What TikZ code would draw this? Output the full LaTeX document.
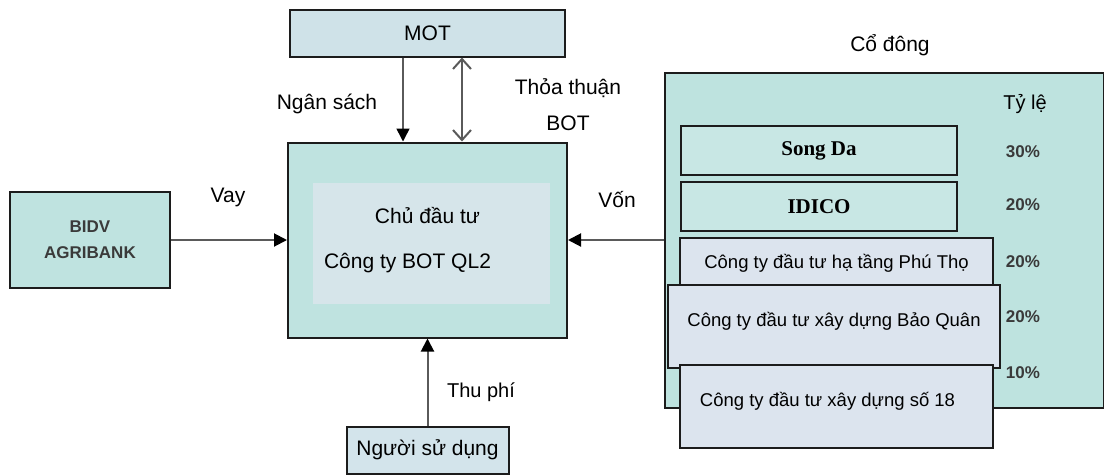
\documentclass[tikz,border=0pt]{standalone}
\usepackage{fontspec}
\setmainfont{Liberation Sans}
\newfontfamily\serifbd{Liberation Serif}
\definecolor{BoxLine}{HTML}{1C1C1C}
\definecolor{BoxTeal}{HTML}{BFE3E0}
\definecolor{InnerFill}{HTML}{D6E5EA}
\definecolor{MotFill}{HTML}{CFE2E8}
\definecolor{ShTeal}{HTML}{BEE3DF}
\definecolor{CoTeal}{HTML}{C8E7E4}
\definecolor{FirmFill}{HTML}{DCE4EE}
\definecolor{UserFill}{HTML}{D3E4EB}
\definecolor{ArrowGray}{HTML}{5A5A5A}
\definecolor{PctGray}{HTML}{3A3A3A}
\usetikzlibrary{arrows.meta,positioning,calc}

\begin{document}
\begin{tikzpicture}[x=1pt,y=-1pt,
    every node/.style={align=center,font=\fontsize{21}{25}\selectfont},
    box/.style={draw=BoxLine,line width=2pt,fill=BoxTeal,inner sep=0pt},
    cobox/.style={box,fill=CoTeal,minimum width=276pt,minimum height=49pt,font=\serifbd\bfseries\fontsize{21}{24}\selectfont},
    firm/.style={box,fill=FirmFill,text height=12pt,text depth=12pt,font=\fontsize{18.5}{22}\selectfont},
    lbl/.style={inner sep=1pt},
    pct/.style={inner sep=1pt,text=PctGray,font=\bfseries\fontsize{17}{20}\selectfont},
    flow/.style={draw=ArrowGray,line width=2pt,-{Triangle[length=13pt,width=13pt,color=black]}},
    twoway/.style={draw=ArrowGray,line width=2pt,{Straight Barb[length=10pt,width=18pt]}-{Straight Barb[length=10pt,width=18pt]}}]
  \useasboundingbox (0,0) rectangle (1104,475);

  % investor in the middle
  \node[box,minimum width=279pt,minimum height=195pt,
        path picture={\fill[InnerFill] ([shift={(25pt,-40pt)}]path picture bounding box.north west)
                      rectangle ([shift={(-17pt,34pt)}]path picture bounding box.south east);}]
        (main) at (427.5,240) {Chủ đầu tư\\[20pt]Công ty BOT QL2\hspace*{40pt}};
  \node[box,fill=MotFill,minimum width=275pt,minimum height=47pt,above=84pt of main] (mot) {MOT};
  \node[box,minimum width=160pt,minimum height=96pt,left=116pt of main,text=PctGray,
        font=\bfseries\fontsize{17}{26}\selectfont] (bidv) {BIDV\\AGRIBANK};
  \node[box,fill=UserFill,minimum width=162pt,minimum height=47pt,below=87pt of main] (user) {Người sử dụng};

  % shareholders
  \node[box,fill=ShTeal,minimum width=439pt,minimum height=335pt,right=96pt of main] (sh) {};
  \node[lbl] (cdong) at (890,45) {Cổ đông};
  \node[lbl,font=\fontsize{20}{24}\selectfont] (tyle) at (1025,104) {Tỷ lệ};
  \node[cobox] (song) at (819,150.5) {Song Da};
  \node[cobox,below=5pt of song] (idico) {IDICO};
  \node[firm,minimum width=313pt,minimum height=60pt] (phutho) at (836.5,268) {Công ty đầu tư hạ tầng Phú Thọ};
  \node[firm,minimum width=332pt,minimum height=83pt] (baoquan) at (834,326.5) {Công ty đầu tư xây dựng Bảo Quân};
  \node[firm,minimum width=313pt,minimum height=83pt] (so18) at (836.5,406.5) {Công ty đầu tư xây dựng số 18\hspace*{18pt}};
  \node[pct] (p1) at (1023,152) {30\%};
  \node[pct] (p2) at (1023,205) {20\%};
  \node[pct] (p3) at (1023,262) {20\%};
  \node[pct] (p4) at (1023,317) {20\%};
  \node[pct] (p5) at (1023,373) {10\%};

  % flows
  \coordinate (nsx) at (403,0);
  \coordinate (btx) at (462,0);
  \draw[flow,line width=1.5pt] (mot.south -| nsx) -- (main.north -| nsx);
  \draw[twoway] (mot.south -| btx) -- (main.north -| btx);
  \draw[flow] (bidv.east) -- (main.west);
  \draw[flow] (sh.west) -- (main.east);
  \draw[flow] (user.north) -- (user.north |- main.south);
  \node[lbl] (ngansach) at (327,104) {Ngân sách};
  \node[lbl] (thoathuan) at (568,105) {Thỏa thuận\\[11pt]BOT};
  \node[lbl] (vay) at (228,197) {Vay};
  \node[lbl] (von) at (617,200) {Vốn};
  \node[lbl,font=\fontsize{20}{24}\selectfont] (thuphi) at (481,392) {Thu phí};
\end{tikzpicture}
\end{document}
